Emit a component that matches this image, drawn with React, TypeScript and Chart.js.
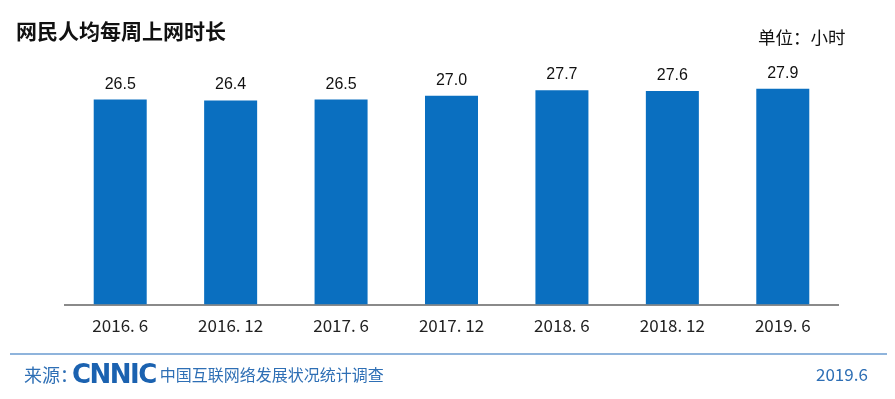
import React, { useEffect, useRef } from "react";
import { Chart, registerables } from "chart.js";

Chart.register(...registerables);

const categories = ["2016. 6", "2016. 12", "2017. 6", "2017. 12", "2018. 6", "2018. 12", "2019. 6"];
const hoursPerWeek = [26.5, 26.4, 26.5, 27.0, 27.7, 27.6, 27.9];
const valueLabels = ["26.5", "26.4", "26.5", "27.0", "27.7", "27.6", "27.9"];

const title = "网民人均每周上网时长";
const unitText = "单位：小时";
const sourcePrefix = "来源：";
const sourceLogo = "CNNIC";
const sourceName = "中国互联网络发展状况统计调查";
const dateText = "2019.6";

const BAR_COLOR = "#0a6fc0";
const FOOT_BLUE = "#2e6fb5";

const valueLabelPlugin = {
  id: "valueLabels",
  afterDatasetsDraw(chart: any) {
    const ctx = chart.ctx;
    const meta = chart.getDatasetMeta(0);
    ctx.save();
    ctx.font = "16px 'Liberation Sans', Arial, sans-serif";
    ctx.fillStyle = "#111";
    ctx.textAlign = "center";
    ctx.textBaseline = "alphabetic";
    meta.data.forEach((bar: any, i: number) => {
      ctx.fillText(valueLabels[i], bar.x, bar.y - 11);
    });
    ctx.restore();
  },
};

export default function App() {
  const canvasRef = useRef<HTMLCanvasElement | null>(null);

  useEffect(() => {
    if (!canvasRef.current) return;
    const chart = new Chart(canvasRef.current, {
      type: "bar",
      data: {
        labels: categories,
        datasets: [
          {
            data: hoursPerWeek,
            backgroundColor: BAR_COLOR,
            barPercentage: 0.48,
            categoryPercentage: 1,
          },
        ],
      },
      options: {
        animation: false,
        responsive: false,
        maintainAspectRatio: false,
        layout: { padding: { left: 65, right: 57, top: 30, bottom: 52 } },
        plugins: {
          legend: { display: false },
          tooltip: { enabled: false },
        },
        scales: {
          x: {
            grid: { display: false, drawTicks: false },
            border: { display: true, color: "#8a8a8a", width: 2 },
            ticks: {
              color: "#222",
              padding: 11,
              font: { family: "'Noto Sans CJK SC', sans-serif", size: 17 },
            },
          },
          y: {
            display: false,
            min: 0,
            max: 35.5,
          },
        },
      },
      plugins: [valueLabelPlugin],
    });
    return () => chart.destroy();
  }, []);

  return (
    <div
      style={{
        position: "absolute",
        left: 0,
        top: 0,
        width: 895,
        height: 399,
        background: "#fff",
        overflow: "hidden",
        fontFamily: "'Noto Sans CJK SC', sans-serif",
      }}
    >
      <canvas ref={canvasRef} width={895} height={399} style={{ position: "absolute", left: 0, top: 0 }} />
      <div
        style={{
          position: "absolute",
          left: 16,
          top: 19,
          fontSize: 21,
          lineHeight: "22px",
          fontWeight: 700,
          color: "#111",
          whiteSpace: "nowrap",
        }}
      >
        {title}
      </div>
      <div
        style={{
          position: "absolute",
          left: 758,
          top: 28,
          fontSize: 17.5,
          lineHeight: "18px",
          color: "#111",
          whiteSpace: "nowrap",
        }}
      >
        {unitText}
      </div>
      <div
        style={{
          position: "absolute",
          left: 10,
          top: 353,
          width: 877,
          height: 2,
          background: "#8fb4dc",
        }}
      />
      <div
        style={{
          position: "absolute",
          left: 24,
          top: 363,
          height: 22,
          display: "flex",
          alignItems: "center",
          whiteSpace: "nowrap",
          color: FOOT_BLUE,
        }}
      >
        <span style={{ fontSize: 18, lineHeight: "22px" }}>{sourcePrefix}</span>
        <span
          style={{
            fontFamily: "'DejaVu Sans', sans-serif",
            fontWeight: 700,
            fontSize: 26,
            lineHeight: "22px",
            letterSpacing: -1.5,
            color: "#1b62b0",
            marginLeft: -6,
            marginRight: 4,
          }}
        >
          {sourceLogo}
        </span>
        <span style={{ fontSize: 16, lineHeight: "22px" }}>{sourceName}</span>
      </div>
      <div
        style={{
          position: "absolute",
          left: 816,
          top: 363,
          fontSize: 17,
          lineHeight: "22px",
          color: FOOT_BLUE,
          fontFamily: "'Noto Sans CJK SC', sans-serif",
          whiteSpace: "nowrap",
        }}
      >
        {dateText}
      </div>
    </div>
  );
}
